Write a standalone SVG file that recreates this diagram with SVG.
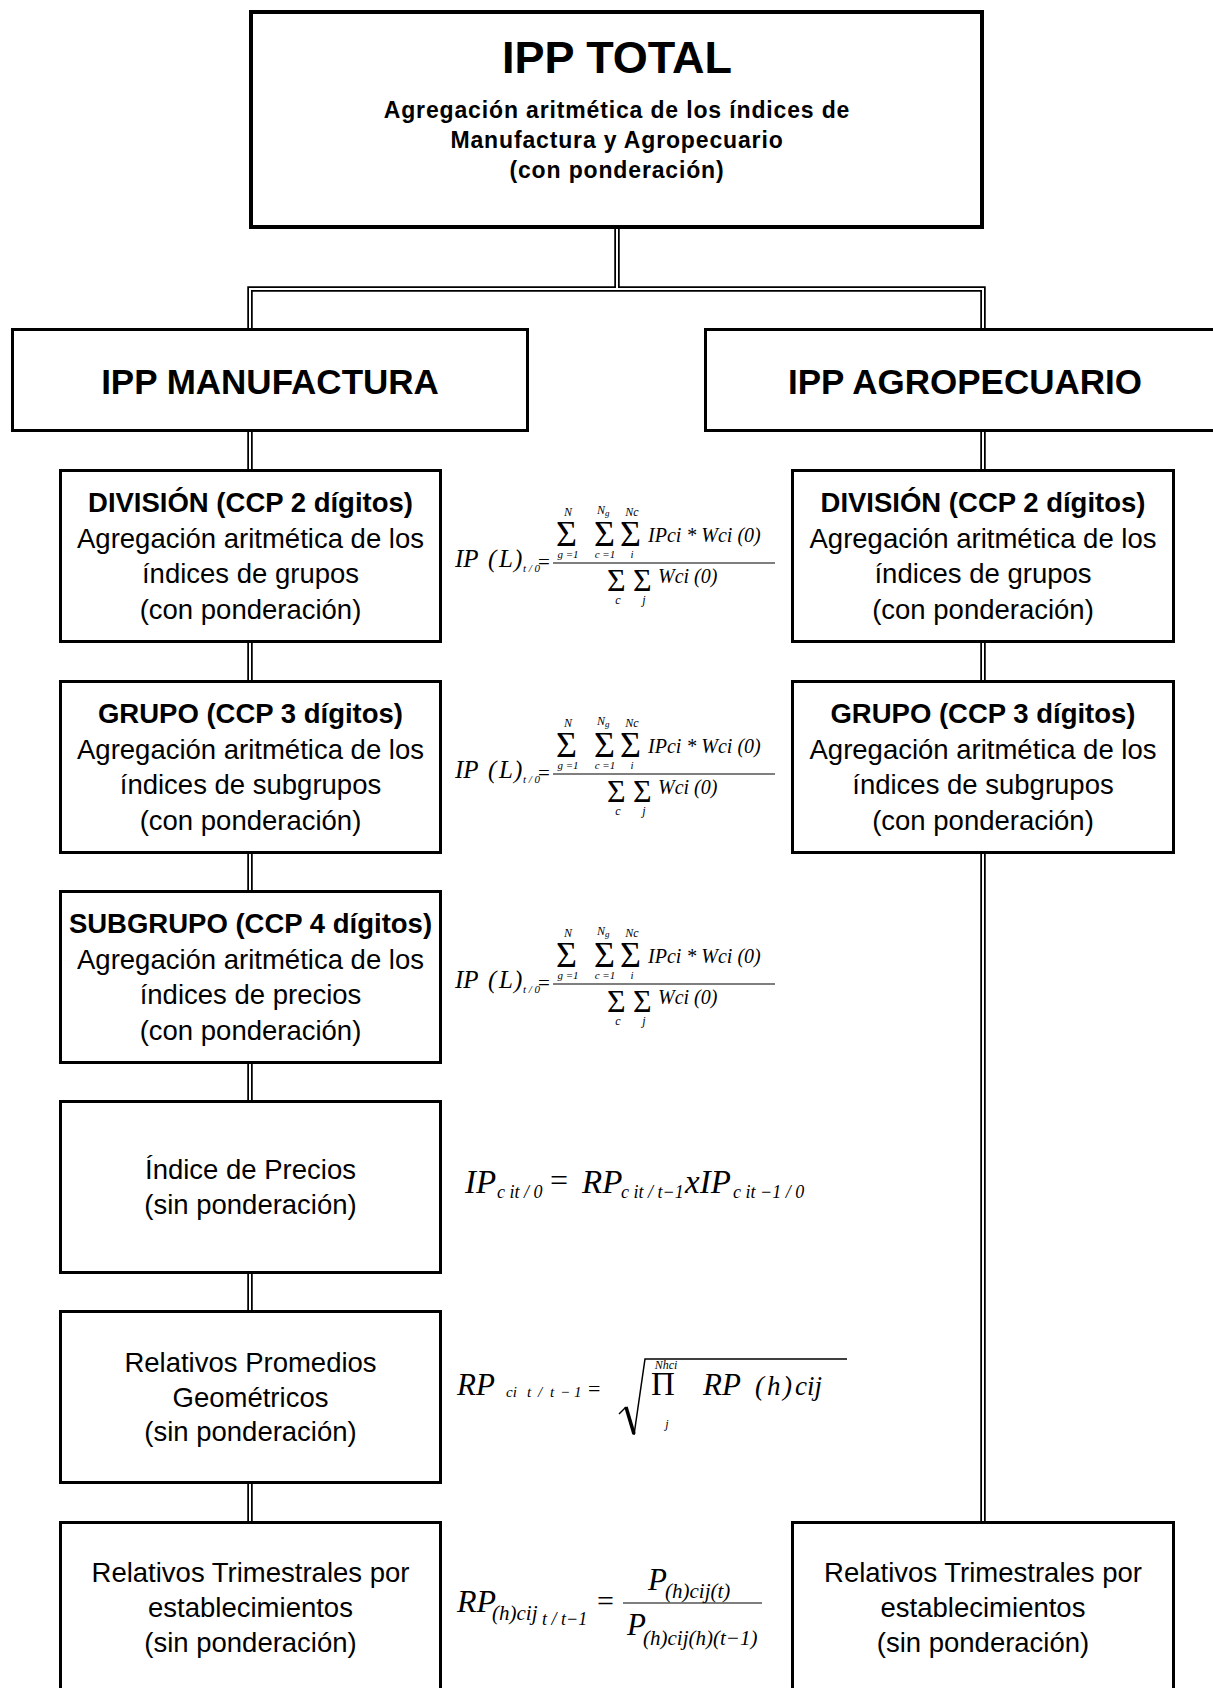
<svg xmlns="http://www.w3.org/2000/svg" width="1213" height="1688" viewBox="0 0 1213 1688">
<style>
.box{fill:#fff;stroke:#000;stroke-width:3}
.top{stroke-width:4}
.co{fill:none;stroke:#000;stroke-width:5.5}
.ci{fill:none;stroke:#fff;stroke-width:2}
.t{font-family:"Liberation Sans",Arial,sans-serif;text-anchor:middle;fill:#000}
.n{font-size:27.5px}
.h1{font-size:45px;font-weight:bold}
.h2{font-size:35px;font-weight:bold}
.s{font-size:23px;font-weight:bold;letter-spacing:0.85px}
.b{font-weight:bold}
.m{font-family:"Liberation Serif","Times New Roman",serif;font-style:italic;fill:#000}
.u{font-family:"Liberation Serif","Times New Roman",serif;font-style:normal;fill:#000}
.c{text-anchor:middle}
.fl{stroke:#000;stroke-width:1.2}
</style>
<rect width="1213" height="1688" fill="#fff"/>
<g id="connectors">
<path class="co" d="M617,228 V289 M250,330 V289 H983 V330 M250,432 V470 M250,643 V681 M250,853 V891 M250,1063 V1101 M250,1273 V1311 M250,1483 V1521 M983,432 V470 M983,643 V681 M983,853 V1521"/>
<path class="ci" d="M617,228 V289 M250,330 V289 H983 V330 M250,432 V470 M250,643 V681 M250,853 V891 M250,1063 V1101 M250,1273 V1311 M250,1483 V1521 M983,432 V470 M983,643 V681 M983,853 V1521"/>
</g>
<g id="ipp-total">
<rect class="box top" x="251" y="12" width="731" height="215"/>
<text class="t h1" x="617" y="73">IPP TOTAL</text>
<text class="t s" x="617" y="118">Agregación aritmética de los índices de</text>
<text class="t s" x="617" y="148">Manufactura y Agropecuario</text>
<text class="t s" x="617" y="178">(con ponderación)</text>
</g>
<g id="ipp-manufactura">
<rect class="box" x="12.5" y="329.5" width="515" height="101"/>
<text class="t h2" x="270" y="394">IPP MANUFACTURA</text>
</g>
<g id="ipp-agropecuario">
<rect class="box" x="705.5" y="329.5" width="530" height="101"/>
<text class="t h2" x="965" y="394">IPP AGROPECUARIO</text>
</g>
<g id="m-division">
<rect class="box" x="60.5" y="470.5" width="380" height="171"/>
<text class="t n b" x="250.5" y="512">DIVISIÓN (CCP 2 dígitos)</text>
<text class="t n" x="250.5" y="548">Agregación aritmética de los</text>
<text class="t n" x="250.5" y="583">índices de grupos</text>
<text class="t n" x="250.5" y="619">(con ponderación)</text>
</g>
<g id="m-grupo">
<rect class="box" x="60.5" y="681.5" width="380" height="171"/>
<text class="t n b" x="250.5" y="723">GRUPO (CCP 3 dígitos)</text>
<text class="t n" x="250.5" y="759">Agregación aritmética de los</text>
<text class="t n" x="250.5" y="794">índices de subgrupos</text>
<text class="t n" x="250.5" y="830">(con ponderación)</text>
</g>
<g id="m-subgrupo">
<rect class="box" x="60.5" y="891.5" width="380" height="171"/>
<text class="t n b" x="250.5" y="933">SUBGRUPO (CCP 4 dígitos)</text>
<text class="t n" x="250.5" y="969">Agregación aritmética de los</text>
<text class="t n" x="250.5" y="1004">índices de precios</text>
<text class="t n" x="250.5" y="1040">(con ponderación)</text>
</g>
<g id="m-indice">
<rect class="box" x="60.5" y="1101.5" width="380" height="171"/>
<text class="t n" x="250.5" y="1179">Índice de Precios</text>
<text class="t n" x="250.5" y="1214">(sin ponderación)</text>
</g>
<g id="m-promedios">
<rect class="box" x="60.5" y="1311.5" width="380" height="171"/>
<text class="t n" x="250.5" y="1372">Relativos Promedios</text>
<text class="t n" x="250.5" y="1407">Geométricos</text>
<text class="t n" x="250.5" y="1441">(sin ponderación)</text>
</g>
<g id="m-trimestrales">
<rect class="box" x="60.5" y="1522.5" width="380" height="200"/>
<text class="t n" x="250.5" y="1582">Relativos Trimestrales por</text>
<text class="t n" x="250.5" y="1617">establecimientos</text>
<text class="t n" x="250.5" y="1652">(sin ponderación)</text>
</g>
<g id="a-division">
<rect class="box" x="792.5" y="470.5" width="381" height="171"/>
<text class="t n b" x="983" y="512">DIVISIÓN (CCP 2 dígitos)</text>
<text class="t n" x="983" y="548">Agregación aritmética de los</text>
<text class="t n" x="983" y="583">índices de grupos</text>
<text class="t n" x="983" y="619">(con ponderación)</text>
</g>
<g id="a-grupo">
<rect class="box" x="792.5" y="681.5" width="381" height="171"/>
<text class="t n b" x="983" y="723">GRUPO (CCP 3 dígitos)</text>
<text class="t n" x="983" y="759">Agregación aritmética de los</text>
<text class="t n" x="983" y="794">índices de subgrupos</text>
<text class="t n" x="983" y="830">(con ponderación)</text>
</g>
<g id="a-trimestrales">
<rect class="box" x="792.5" y="1522.5" width="381" height="200"/>
<text class="t n" x="983" y="1582">Relativos Trimestrales por</text>
<text class="t n" x="983" y="1617">establecimientos</text>
<text class="t n" x="983" y="1652">(sin ponderación)</text>
</g>
<g id="formula-division">
<text class="m" y="567" font-size="25"><tspan x="455">IP</tspan><tspan x="488">(</tspan><tspan x="499">L</tspan><tspan x="514">)</tspan></text>
<text class="m" x="523" y="572" font-size="11">t / 0</text>
<text class="u" x="538" y="569" font-size="21">=</text>
<line class="fl" x1="553" y1="563" x2="775" y2="563"/>
<text class="u" x="556" y="546" font-size="36">Σ</text>
<text class="m c" x="568" y="516" font-size="12">N</text>
<text class="m c" x="568" y="558" font-size="11">g =1</text>
<text class="u" x="594" y="546" font-size="36">Σ</text>
<text class="m" x="597" y="514" font-size="12">N<tspan font-size="9" dy="2">g</tspan></text>
<text class="m c" x="605" y="558" font-size="11">c =1</text>
<text class="u" x="620" y="546" font-size="36">Σ</text>
<text class="m c" x="632" y="516" font-size="12">Nc</text>
<text class="m c" x="632" y="558" font-size="11">i</text>
<text class="m" x="648" y="542" font-size="20">IPci * Wci (0)</text>
<text class="u" x="607" y="591" font-size="32">Σ</text>
<text class="u" x="633" y="591" font-size="32">Σ</text>
<text class="m c" x="618" y="604" font-size="12">c</text>
<text class="m c" x="644" y="604" font-size="12">j</text>
<text class="m" x="658" y="583" font-size="20">Wci (0)</text>
</g>
<g id="formula-grupo" transform="translate(0,211)">
<text class="m" y="567" font-size="25"><tspan x="455">IP</tspan><tspan x="488">(</tspan><tspan x="499">L</tspan><tspan x="514">)</tspan></text>
<text class="m" x="523" y="572" font-size="11">t / 0</text>
<text class="u" x="538" y="569" font-size="21">=</text>
<line class="fl" x1="553" y1="563" x2="775" y2="563"/>
<text class="u" x="556" y="546" font-size="36">Σ</text>
<text class="m c" x="568" y="516" font-size="12">N</text>
<text class="m c" x="568" y="558" font-size="11">g =1</text>
<text class="u" x="594" y="546" font-size="36">Σ</text>
<text class="m" x="597" y="514" font-size="12">N<tspan font-size="9" dy="2">g</tspan></text>
<text class="m c" x="605" y="558" font-size="11">c =1</text>
<text class="u" x="620" y="546" font-size="36">Σ</text>
<text class="m c" x="632" y="516" font-size="12">Nc</text>
<text class="m c" x="632" y="558" font-size="11">i</text>
<text class="m" x="648" y="542" font-size="20">IPci * Wci (0)</text>
<text class="u" x="607" y="591" font-size="32">Σ</text>
<text class="u" x="633" y="591" font-size="32">Σ</text>
<text class="m c" x="618" y="604" font-size="12">c</text>
<text class="m c" x="644" y="604" font-size="12">j</text>
<text class="m" x="658" y="583" font-size="20">Wci (0)</text>
</g>
<g id="formula-subgrupo" transform="translate(0,421)">
<text class="m" y="567" font-size="25"><tspan x="455">IP</tspan><tspan x="488">(</tspan><tspan x="499">L</tspan><tspan x="514">)</tspan></text>
<text class="m" x="523" y="572" font-size="11">t / 0</text>
<text class="u" x="538" y="569" font-size="21">=</text>
<line class="fl" x1="553" y1="563" x2="775" y2="563"/>
<text class="u" x="556" y="546" font-size="36">Σ</text>
<text class="m c" x="568" y="516" font-size="12">N</text>
<text class="m c" x="568" y="558" font-size="11">g =1</text>
<text class="u" x="594" y="546" font-size="36">Σ</text>
<text class="m" x="597" y="514" font-size="12">N<tspan font-size="9" dy="2">g</tspan></text>
<text class="m c" x="605" y="558" font-size="11">c =1</text>
<text class="u" x="620" y="546" font-size="36">Σ</text>
<text class="m c" x="632" y="516" font-size="12">Nc</text>
<text class="m c" x="632" y="558" font-size="11">i</text>
<text class="m" x="648" y="542" font-size="20">IPci * Wci (0)</text>
<text class="u" x="607" y="591" font-size="32">Σ</text>
<text class="u" x="633" y="591" font-size="32">Σ</text>
<text class="m c" x="618" y="604" font-size="12">c</text>
<text class="m c" x="644" y="604" font-size="12">j</text>
<text class="m" x="658" y="583" font-size="20">Wci (0)</text>
</g>
<g id="formula-indice">
<text class="m" x="465" y="1193" font-size="33">IP</text>
<text class="m" x="497" y="1198" font-size="18">c it / 0</text>
<text class="u" x="550" y="1191" font-size="32">=</text>
<text class="m" x="582" y="1193" font-size="33">RP</text>
<text class="m" x="621" y="1198" font-size="18">c it / t−1</text>
<text class="m" x="685" y="1193" font-size="33">xIP</text>
<text class="m" x="733" y="1198" font-size="18">c it −1 / 0</text>
</g>
<g id="formula-promedios">
<text class="m" x="457" y="1395" font-size="31">RP</text>
<text class="m" y="1397" font-size="15"><tspan x="506">ci</tspan><tspan x="527">t</tspan><tspan x="538">/</tspan><tspan x="550">t</tspan><tspan x="560">−</tspan><tspan x="574">1</tspan></text>
<text class="u" x="588" y="1396" font-size="22">=</text>
<polyline points="619,1414 626,1407" fill="none" stroke="#000" stroke-width="1.5"/>
<polyline points="626,1407 634,1434" fill="none" stroke="#000" stroke-width="3.5"/>
<polyline points="634,1435 645,1359 847,1359" fill="none" stroke="#000" stroke-width="1.5"/>
<text class="u" x="651" y="1395" font-size="33">Π</text>
<text class="m c" x="666" y="1369" font-size="12">Nhci</text>
<text class="m c" x="667" y="1428" font-size="12">j</text>
<text class="m" x="703" y="1395" font-size="31">RP</text>
<text class="m" y="1395" font-size="27"><tspan x="755">(</tspan><tspan x="767">h</tspan><tspan x="783">)</tspan><tspan x="795">cij</tspan></text>
</g>
<g id="formula-trimestrales">
<text class="m" x="457" y="1612" font-size="32">RP</text>
<text class="m" x="492" y="1620" font-size="21">(h)cij</text>
<text class="m" x="542" y="1625" font-size="18">t / t−1</text>
<text class="u" x="597" y="1611" font-size="30">=</text>
<line class="fl" x1="623" y1="1603" x2="762" y2="1603"/>
<text class="m" x="648" y="1590" font-size="31">P</text>
<text class="m" x="665" y="1598" font-size="21">(h)cij(t)</text>
<text class="m" x="627" y="1635" font-size="31">P</text>
<text class="m" x="643" y="1645" font-size="21">(h)cij(h)(t−1)</text>
</g>
</svg>
